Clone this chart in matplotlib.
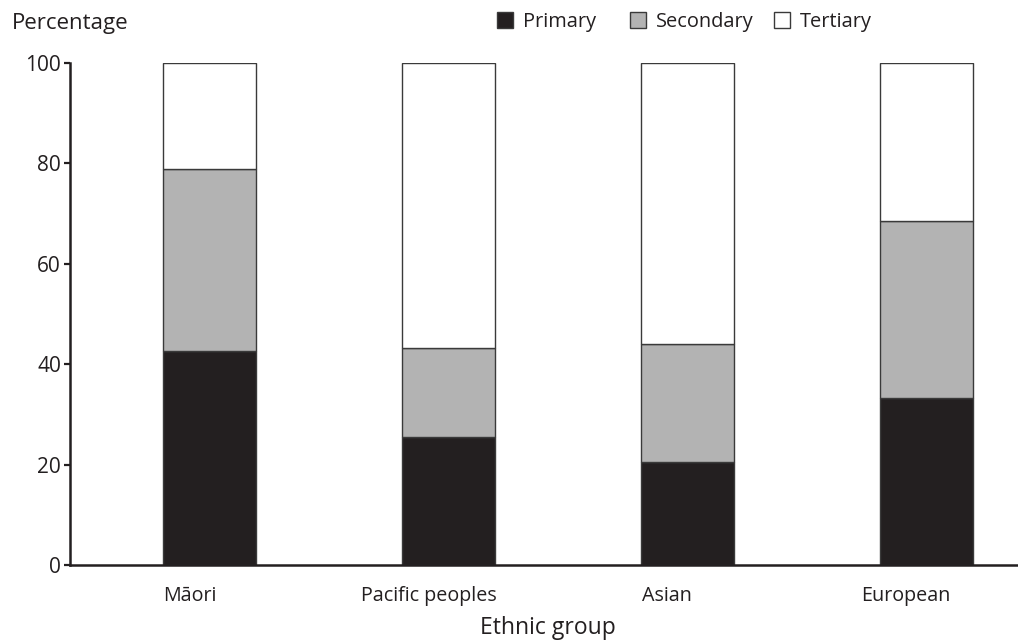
import matplotlib.pyplot as plt
from matplotlib.patches import Patch
from matplotlib.transforms import ScaledTranslation

# data
groups = ['Māori', 'Pacific peoples', 'Asian', 'European']
primary = [42.6, 25.4, 20.5, 33.3]
secondary = [36.3, 17.8, 23.6, 35.2]
tertiary = [21.1, 56.8, 55.9, 31.5]
series_names = ['Primary', 'Secondary', 'Tertiary']

plt.rcParams['font.family'] = ['Open Sans', 'DejaVu Sans']

colors = ['#231f20', '#b3b3b3', '#ffffff']
edge = '#3a3a3a'
ink = '#231f20'

fig = plt.figure(figsize=(10.18, 6.43), dpi=100)
ax = fig.add_axes([70 / 1018, 1 - 565 / 643, 948 / 1018, 502 / 643])

x = list(range(len(groups)))
bottom2 = [p + s for p, s in zip(primary, secondary)]
w = 0.39
ax.bar(x, primary, w, color=colors[0], edgecolor=edge, linewidth=1)
ax.bar(x, secondary, w, bottom=primary, color=colors[1], edgecolor=edge, linewidth=1)
ax.bar(x, tertiary, w, bottom=bottom2, color=colors[2], edgecolor=edge, linewidth=1)

ax.set_xlim(-0.586, 3.385)
ax.set_ylim(0, 100)
ax.set_yticks([0, 20, 40, 60, 80, 100])
ax.set_xticks(x)
ax.set_xticklabels(groups)
ax.tick_params(axis='x', length=0, pad=15, labelsize=14.2, colors=ink)
ax.tick_params(axis='y', length=4, width=1.6, direction='out', pad=2.5,
               labelsize=15, colors=ink)

# category labels sit a little left of the bar centres in the original
shift = ScaledTranslation(-0.2, 0, fig.dpi_scale_trans)
for lab in ax.get_xticklabels():
    lab.set_transform(lab.get_transform() + shift)

for s in ['top', 'right']:
    ax.spines[s].set_visible(False)
for s in ['left', 'bottom']:
    ax.spines[s].set_linewidth(1.8)
    ax.spines[s].set_color(ink)

fig.text(548 / 1018, 1 - 628 / 643, 'Ethnic group', fontsize=16.5, color=ink,
         ha='center', va='center')
fig.text(12 / 1018, 1 - 24 / 643, 'Percentage', fontsize=16, color=ink,
         va='center', ha='left')

# legend entries are spaced unevenly in the original, so one legend per entry
legend_x = [497, 630, 774]
for c, name, lx in zip(colors, series_names, legend_x):
    h = Patch(facecolor=c, edgecolor=edge, linewidth=1)
    fig.legend([h], [name], loc='center left',
               bbox_to_anchor=(lx / 1018, 1 - 22 / 643), frameon=False,
               handlelength=0.8, handleheight=0.8, handletextpad=0.5,
               fontsize=14.4, borderaxespad=0, borderpad=0, labelcolor=ink)

plt.savefig('out.png', dpi=100)
